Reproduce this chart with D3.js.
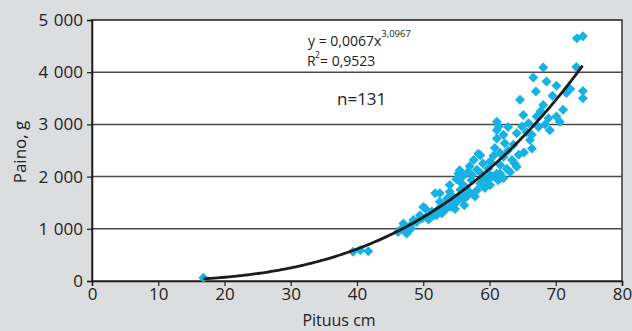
<!DOCTYPE html>
<html>
<head>
<meta charset="utf-8">
<script src="https://cdn.jsdelivr.net/npm/d3@7"></script>
<style>
  html, body { margin: 0; padding: 0; background: #dcdddf; }
  svg { display: block; font-family: "Open Sans", "DejaVu Sans", sans-serif; }
</style>
</head>
<body>
<div id="chart"></div>
<script>
// Pituus (cm) ja paino (g), luettu kuvasta
const lengthCm = [
  16.8, 39.4, 40.5, 41.7, 46.2, 46.8, 47.0, 47.5, 47.7, 48.2,
  48.5, 48.0, 49.0, 49.5, 50.0, 50.3, 50.5, 50.8, 51.3, 51.5,
  51.8, 52.0, 52.3, 52.5, 52.5, 52.8, 53.0, 53.2, 53.5, 53.8,
  54.0, 54.0, 54.2, 54.5, 54.6, 54.8, 55.0, 55.1, 55.3, 55.3,
  55.6, 55.8, 55.8, 56.0, 56.2, 56.4, 56.6, 56.8, 57.0, 57.3,
  57.3, 57.6, 57.8, 58.1, 58.1, 58.3, 58.6, 58.6, 59.0, 59.3,
  59.6, 59.8, 60.1, 60.1, 60.1, 60.4, 60.6, 61.1, 61.1, 61.1,
  61.1, 61.3, 61.6, 61.6, 61.6, 61.4, 62.1, 62.1, 62.1, 62.3,
  62.6, 62.8, 63.1, 63.4, 63.6, 63.8, 64.1, 64.1, 64.4, 64.6,
  64.9, 65.1, 65.2, 65.6, 65.9, 66.1, 66.4, 66.4, 66.6, 67.0,
  67.1, 67.4, 67.7, 68.1, 68.1, 68.4, 68.6, 68.9, 69.1, 69.5,
  70.1, 70.1, 70.6, 71.1, 71.6, 72.2, 73.1, 73.2, 74.1, 74.1,
  74.1, 57.0, 53.6, 56.0, 59.0, 58.8, 60.8, 62.8, 55.5, 49.8,
  47.2
];
const weightG = [
  60, 560, 590, 570, 940, 1010, 1100, 910, 960, 1010,
  1170, 1060, 1130, 1260, 1420, 1390, 1230, 1180, 1330, 1250,
  1680, 1260, 1380, 1520, 1680, 1300, 1450, 1350, 1390, 1550,
  1710, 1840, 1420, 1460, 1600, 1380, 1950, 1520, 1580, 2060,
  1750, 1680, 1870, 2010, 1450, 1800, 1620, 2100, 1700, 1930,
  2030, 2320, 1620, 1740, 2130, 2440, 1870, 2410, 1980, 1780,
  1930, 2150, 1840, 2030, 2290, 2000, 2400, 2060, 2730, 2890,
  3050, 1930, 2060, 2220, 2450, 2960, 1970, 2380, 2800, 2640,
  2150, 2500, 2090, 2320, 2610, 2250, 2190, 2830, 2420, 3470,
  2960, 3180, 2460, 2850, 3020, 2700, 2540, 2800, 3900, 3630,
  3150, 2950, 3250, 3370, 4090, 3000, 3820, 3120, 2890, 3550,
  3150, 3740, 3050, 3280, 3600, 3680, 4100, 4650, 4690, 3640,
  3500, 2200, 1580, 1560, 2250, 2050, 2550, 2950, 2120, 1200,
  1030
];

// potenssisovite kuvan kaavasta
const fitA = 0.0067;
const fitB = 3.0967;
const fitFrom = 16.8;
const fitTo = 74.1;

const xTicks = [0, 10, 20, 30, 40, 50, 60, 70, 80];
const yTicks = [0, 1000, 2000, 3000, 4000, 5000];
const eqText = "y = 0,0067x";
const eqExp = "3,0967";
const r2Text = "= 0,9523";
const nText = "n=131";

const W = 632, H = 331;
const margin = { top: 20, right: 10, bottom: 50, left: 92 };
const width = W - margin.left - margin.right;
const height = H - margin.top - margin.bottom;

const svg = d3.select('#chart').append('svg')
  .attr('width', W)
  .attr('height', H);

svg.append('rect').attr('width', W).attr('height', H).attr('fill', '#dcdddf');

const chart = svg.append('g')
  .attr('transform', `translate(${margin.left}, ${margin.top})`);

const x = d3.scaleLinear().domain([0, 80]).range([0, width]);
const y = d3.scaleLinear().domain([0, 5000]).range([height, 0]);

const fmt = d => d3.format(',')(d).replace(/,/g, '\u2009\u2009');

// plot area
chart.append('rect')
  .attr('width', width).attr('height', height)
  .attr('fill', '#fff')
  .attr('stroke', '#333').attr('stroke-width', 1.5);

// gridlines
chart.append('g').selectAll('line')
  .data(yTicks.filter(d => d > 0))
  .enter().append('line')
  .attr('x1', 0).attr('x2', width)
  .attr('y1', d => y(d)).attr('y2', d => y(d))
  .attr('stroke', '#4a4a4a').attr('stroke-width', 1.5);

// axes
const xAxis = chart.append('g')
  .attr('transform', `translate(0, ${height})`)
  .call(d3.axisBottom(x).tickValues(xTicks).tickSize(5).tickPadding(2).tickFormat(d => d));
const yAxis = chart.append('g')
  .call(d3.axisLeft(y).tickValues(yTicks).tickSize(5).tickPadding(4).tickFormat(fmt));

[xAxis, yAxis].forEach(a => {
  a.select('.domain').attr('stroke', '#1a1a1a').attr('stroke-width', 1.5);
  a.selectAll('.tick line').attr('stroke', '#1a1a1a').attr('stroke-width', 1.2);
  a.selectAll('.tick text')
    .attr('fill', '#222')
    .style('font-size', '17px')
    .style('font-family', '"Open Sans", sans-serif');
});

// points
const pts = lengthCm.map((d, i) => [d, weightG[i]]);
chart.append('g').selectAll('path')
  .data(pts)
  .enter().append('path')
  .attr('d', 'M0,-5L5,0L0,5L-5,0Z')
  .attr('transform', d => `translate(${x(d[0])}, ${y(d[1])})`)
  .attr('fill', '#16b2e6');

// trend line
const fitPts = d3.range(fitFrom, fitTo + 0.001, 0.25).map(v => [v, fitA * Math.pow(v, fitB)]);
chart.append('path')
  .datum(fitPts)
  .attr('fill', 'none')
  .attr('stroke', '#1c1c1c')
  .attr('stroke-width', 2.8)
  .attr('d', d3.line().x(d => x(d[0])).y(d => y(d[1])));

// annotations
const eq = svg.append('text')
  .attr('x', 308).attr('y', 46)
  .attr('fill', '#222')
  .style('font-size', '14px');
eq.append('tspan').text(eqText);
eq.append('tspan').attr('dy', -9).style('font-size', '9.5px').text(eqExp);

svg.append('text')
  .attr('x', 307).attr('y', 66)
  .attr('fill', '#222')
  .style('font-size', '14px')
  .text('R');
svg.append('text')
  .attr('x', 315).attr('y', 58)
  .attr('fill', '#222')
  .style('font-size', '8.5px')
  .text('2');
svg.append('text')
  .attr('x', 320).attr('y', 66)
  .attr('fill', '#222')
  .style('font-size', '14px')
  .text(r2Text);

svg.append('text')
  .attr('x', 337).attr('y', 105)
  .attr('fill', '#222')
  .style('font-size', '17px')
  .text(nText);

// axis titles
svg.append('text')
  .attr('x', margin.left + width / 2 - 18).attr('y', 326)
  .attr('text-anchor', 'middle')
  .attr('fill', '#222')
  .style('font-size', '16px')
  .text('Pituus cm');

svg.append('text')
  .attr('transform', 'translate(26, 152) rotate(-90)')
  .attr('text-anchor', 'middle')
  .attr('fill', '#222')
  .style('font-size', '17px')
  .text('Paino, g');
</script>
</body>
</html>
